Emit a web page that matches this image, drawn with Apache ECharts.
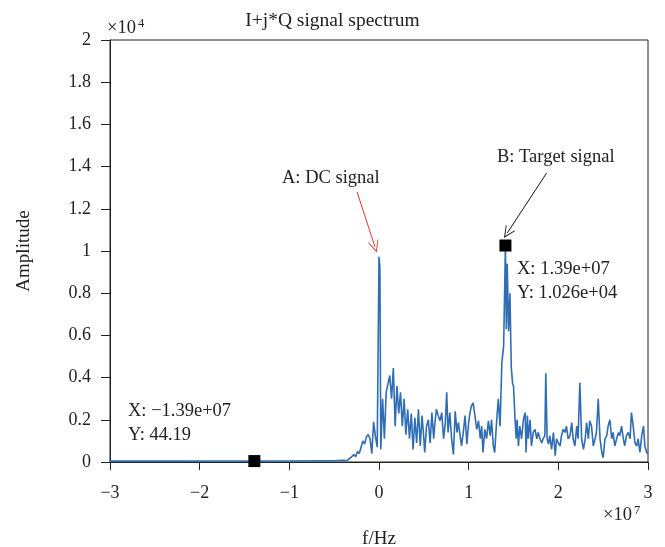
<!DOCTYPE html>
<html>
<head>
<meta charset="utf-8">
<script src="https://cdn.jsdelivr.net/npm/echarts@6/dist/echarts.min.js"></script>
<style>
  html, body { margin: 0; padding: 0; background: #fff; }
  #chart { width: 665px; height: 547px; }
</style>
</head>
<body>
<div id="chart"></div>
<script>
// frequency in units of 1e7 Hz, amplitude in units of 1e4
const xTicks = [-3, -2, -1, 0, 1, 2, 3];
const yTicks = [0, 0.2, 0.4, 0.6, 0.8, 1, 1.2, 1.4, 1.6, 1.8, 2];

const lowBand = [[-3.00,0.004],[-2.60,0.005],[-2.20,0.004],[-1.80,0.005],[-1.39,0.0044],[-1.00,0.005],[-0.70,0.006],[-0.50,0.006],[-0.40,0.008]];

const dcBand = [[-0.36,0.006],[-0.34,0.012],[-0.32,0.02],[-0.30,0.015],[-0.28,0.035],[-0.26,0.025],[-0.24,0.05],[-0.22,0.04],[-0.20,0.07],[-0.18,0.10],
  [-0.16,0.085],[-0.14,0.12],[-0.12,0.13],[-0.10,0.11],[-0.08,0.04],[-0.06,0.19],[-0.04,0.12],[-0.02,0.07],[0.00,0.973],[0.01,0.92],[0.02,0.06],
  [0.04,0.30],[0.06,0.11],[0.08,0.33],[0.10,0.37],[0.12,0.41],[0.14,0.30],[0.16,0.445],[0.18,0.17],[0.20,0.36],[0.22,0.23],
  [0.24,0.33],[0.26,0.17],[0.28,0.30],[0.30,0.13],[0.32,0.25],[0.34,0.11],[0.36,0.23],[0.38,0.06],[0.40,0.21],[0.42,0.09],[0.44,0.25]];

const midBand = [[0.46,0.076],[0.48,0.22],[0.50,0.11],[0.51,0.045],[0.53,0.17],[0.55,0.20],[0.57,0.09],[0.59,0.234],[0.61,0.11],[0.62,0.17],
  [0.64,0.25],[0.66,0.22],[0.68,0.195],[0.70,0.234],[0.72,0.11],[0.74,0.187],[0.755,0.33],[0.77,0.14],[0.79,0.234],[0.81,0.11],
  [0.83,0.036],[0.85,0.24],[0.87,0.14],[0.885,0.187],[0.90,0.195],[0.92,0.076],[0.94,0.14],[0.96,0.22],[0.98,0.085],[1.00,0.187],
  [1.015,0.234],[1.03,0.265],[1.05,0.28],[1.07,0.22],[1.09,0.155],[1.11,0.195],[1.13,0.11],[1.145,0.17],[1.16,0.045],[1.18,0.155],
  [1.20,0.11],[1.22,0.195],[1.24,0.125],[1.255,0.20],[1.275,0.076],[1.29,0.045],[1.31,0.18],[1.33,0.30],[1.35,0.17],[1.37,0.47]];

const targetBand = [[1.39,0.55],[1.41,1.026],[1.42,0.63],[1.43,0.94],[1.445,0.62],[1.46,0.80],[1.475,0.45],[1.49,0.37],[1.50,0.36],[1.515,0.22],[1.53,0.11],[1.54,0.20]];

const highBand = [[1.555,0.076],[1.57,0.17],[1.59,0.11],[1.61,0.20],[1.63,0.234],[1.64,0.045],[1.655,0.22],[1.665,0.11],[1.685,0.20],[1.70,0.076],
  [1.72,0.14],[1.74,0.155],[1.76,0.11],[1.775,0.14],[1.795,0.11],[1.815,0.09],[1.83,0.11],[1.85,0.125],[1.86,0.42],[1.875,0.11],
  [1.89,0.085],[1.905,0.125],[1.925,0.06],[1.945,0.14],[1.965,0.03],[1.98,0.11],[2.00,0.09],[2.02,0.076],[2.035,0.125],[2.055,0.155],
  [2.075,0.14],[2.09,0.17],[2.11,0.11],[2.13,0.125],[2.15,0.187],[2.165,0.11],[2.185,0.076],[2.205,0.17],[2.22,0.11],[2.24,0.376],
  [2.26,0.11],[2.28,0.06],[2.30,0.11],[2.315,0.187],[2.335,0.11],[2.35,0.195],[2.37,0.17],[2.39,0.076],[2.41,0.11],[2.425,0.14],
  [2.445,0.30],[2.465,0.11],[2.485,0.045],[2.50,0.02],[2.52,0.11],[2.54,0.125],[2.555,0.17],[2.575,0.20],[2.595,0.11],[2.61,0.14],
  [2.63,0.076],[2.65,0.11],[2.67,0.14],[2.685,0.125],[2.705,0.17],[2.725,0.11],[2.74,0.076],[2.76,0.125],[2.78,0.14],[2.80,0.11],
  [2.815,0.234],[2.835,0.17],[2.855,0.09],[2.875,0.076],[2.89,0.11],[2.91,0.045],[2.93,0.125],[2.95,0.17],[2.965,0.076],[2.985,0.045],[3.00,0.04]];

const dataTips = [[1.41, 1.026], [-1.39, 0.0044]];
const arrowA = [[-0.245, 1.28], [-0.045, 1.02]];
const arrowB = [[1.87, 1.37], [1.43, 1.085]];

const spectrum = lowBand.concat(dcBand, midBand, targetBand, highBand);

const font = '"Liberation Serif", "DejaVu Serif", serif';
const ink = '#222';
const chevron = 'path://M0,10 L5,0 L10,10 L9.2,10 L5,2 L0.8,10 Z';
const minus = v => (v < 0 ? '\u2212' + Math.abs(v) : String(v));
const txt = (left, top, text, size) => ({ type: 'text', left, top, style: { text, font: size + 'px ' + font, fill: ink } });

const chart = echarts.init(document.getElementById('chart'));
chart.setOption({
  animation: false,
  textStyle: { fontFamily: font, color: ink },
  title: {
    text: 'I+j*Q signal spectrum', left: 'center', top: 6,
    textStyle: { fontFamily: font, fontSize: 19.5, fontWeight: 'normal', color: ink }
  },
  grid: {
    left: 110, right: 17, top: 40, bottom: 85,
    outerBoundsMode: 'none', containLabel: false,
    show: true, borderColor: ink, borderWidth: 1
  },
  xAxis: {
    type: 'value', min: -3, max: 3, interval: 1,
    name: 'f/Hz', nameLocation: 'middle', nameGap: 68,
    nameTextStyle: { fontFamily: font, fontSize: 19, color: ink },
    axisLine: { onZero: false, lineStyle: { color: ink, width: 1 } },
    axisTick: { length: 8, lineStyle: { color: ink } },
    axisLabel: { fontFamily: font, fontSize: 18, color: ink, margin: 22, formatter: minus },
    splitLine: { show: false }
  },
  yAxis: {
    type: 'value', min: 0, max: 2, interval: 0.2,
    name: 'Amplitude', nameLocation: 'middle', nameGap: 76, nameRotate: 90,
    nameTextStyle: { fontFamily: font, fontSize: 19, color: ink },
    axisLine: { show: true, onZero: false, lineStyle: { color: ink, width: 1 } },
    axisTick: { show: true, length: 9, lineStyle: { color: ink } },
    axisLabel: { fontFamily: font, fontSize: 18, color: ink, margin: 19, formatter: v => String(+v.toFixed(1)) },
    splitLine: { show: false }
  },
  graphic: [
    txt(107, 19, '\u00d710', 18.5),
    txt(138, 17, '4', 12.5),
    txt(603, 506, '\u00d710', 18.5),
    txt(634, 504, '7', 12.5),
    txt(282, 169, 'A: DC signal', 18.5),
    txt(497, 148, 'B: Target signal', 18.5),
    txt(517, 260, 'X: 1.39e+07', 18.5),
    txt(517, 284, 'Y: 1.026e+04', 18.5),
    txt(128, 402, 'X: \u22121.39e+07', 18.5),
    txt(128, 426, 'Y: 44.19', 18.5)
  ],
  series: [{
    type: 'line',
    data: spectrum,
    showSymbol: false,
    lineStyle: { color: '#2f6db5', width: 1.6 },
    itemStyle: { color: '#2f6db5' },
    markPoint: {
      silent: true,
      symbol: 'rect', symbolSize: 12,
      itemStyle: { color: '#000' },
      label: { show: false },
      data: dataTips.map(c => ({ coord: c }))
    },
    markLine: {
      silent: true,
      symbol: ['none', chevron],
      symbolSize: [11, 12],
      label: { show: false },
      data: [
        [{ coord: arrowA[0], lineStyle: { color: '#e8352a', width: 1, type: 'solid' } }, { coord: arrowA[1] }],
        [{ coord: arrowB[0], lineStyle: { color: '#111', width: 1, type: 'solid' } }, { coord: arrowB[1] }]
      ]
    }
  }]
});
</script>
</body>
</html>
